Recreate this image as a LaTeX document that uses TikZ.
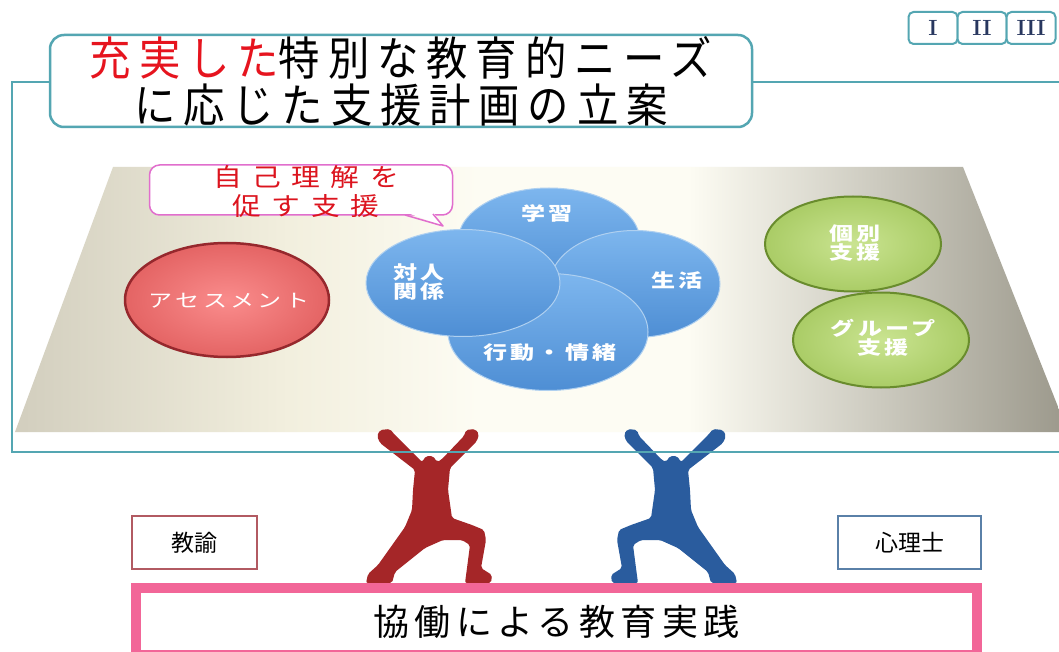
\documentclass[tikz,border=0pt]{standalone}
\usepackage{fontspec}
\usetikzlibrary{shapes.geometric}

\newfontfamily\jp{Noto Sans CJK JP}
\newfontfamily\jptitle[FakeStretch=0.9,LetterSpace=17]{Noto Sans CJK JP}
\newfontfamily\jpbubble[FakeStretch=1.15,LetterSpace=42]{Noto Sans CJK JP}
\newfontfamily\jporb[FakeStretch=1.3,LetterSpace=18]{Noto Sans CJK JP}
\newfontfamily\jpwide[LetterSpace=15]{Noto Sans CJK JP}

\definecolor{frameteal}{RGB}{84,166,178}
\definecolor{titlered}{RGB}{230,20,30}
\definecolor{numnavy}{RGB}{40,55,95}
\definecolor{bubblepink}{RGB}{225,110,205}
\definecolor{bubblered}{RGB}{220,20,30}
\definecolor{assessin}{RGB}{250,140,140}
\definecolor{assessout}{RGB}{228,100,100}
\definecolor{assessedge}{RGB}{150,40,45}
\definecolor{orbtop}{RGB}{125,182,238}
\definecolor{orbbot}{RGB}{78,142,212}
\definecolor{orbrim}{RGB}{175,208,240}
\definecolor{leafin}{RGB}{202,228,145}
\definecolor{leafout}{RGB}{170,204,102}
\definecolor{leafedge}{RGB}{105,140,45}
\definecolor{jumpred}{RGB}{165,38,40}
\definecolor{jumpblue}{RGB}{42,92,158}
\definecolor{teacheredge}{RGB}{178,90,98}
\definecolor{psychedge}{RGB}{90,128,168}
\definecolor{practicepink}{RGB}{242,102,152}
\definecolor{pfL}{RGB}{210,206,190}
\definecolor{pfM}{RGB}{242,239,222}
\definecolor{pfW}{RGB}{253,252,243}
\definecolor{pfR}{RGB}{155,152,139}

% floor shading, mapped onto 25bp..75bp of the path
\pgfdeclarehorizontalshading{floor}{100bp}{color(0bp)=(pfL); color(25bp)=(pfL);
  color(38bp)=(pfM); color(47bp)=(pfW); color(57bp)=(pfW); color(75bp)=(pfR); color(100bp)=(pfR)}

\tikzset{
  pics/jumper/.style={code={
    \fill[rounded corners=2pt] (-51,436) -- (-48,430) -- (-38,429) -- (-34,434) -- (-9,459)
      -- (-6,462) -- (-2,456) -- (5,456) -- (9,462) -- (13,460) -- (36,436) -- (38,430)
      -- (47,429) -- (51,434) -- (49,441) -- (22,468) -- (20,490) -- (24,518) -- (44,525)
      -- (56,530) -- (58,540) -- (53,568) -- (64,575) -- (63,583) -- (37,583) -- (39,568)
      -- (42,545) -- (34,540) -- (15,540) -- (-3,548) -- (-33,572) -- (-36,583) -- (-62,583)
      -- (-60,574) -- (-50,565) -- (-23,527) -- (-16,510) -- (-15,490) -- (-13,470)
      -- (-48,443) -- cycle;
  }}
}

\begin{document}
\begin{tikzpicture}[x=1pt,y=-1pt,
  frameline/.style={draw=frameteal, line width=2.5pt},
  titlebox/.style={draw=frameteal, line width=2.5pt, fill=white, rounded corners=14pt,
    minimum width=702pt, minimum height=92pt, inner sep=0pt, align=center,
    font=\jptitle\fontsize{46}{47}\selectfont},
  numbox/.style={draw=frameteal, line width=2pt, fill=white, rounded corners=5pt,
    minimum width=49pt, minimum height=32pt, inner sep=0pt, text=numnavy,
    font=\bfseries\fontsize{22}{24}\selectfont},
  bubble/.style={draw=bubblepink, line width=1.5pt, fill=white, rounded corners=10pt,
    minimum width=303pt, minimum height=50pt, inner sep=0pt},
  bubbletext/.style={text=bubblered, align=center, inner sep=0pt,
    font=\jpbubble\fontsize{25}{29}\selectfont},
  orb/.style={ellipse, inner sep=0pt},
  focusorb/.style={orb, top color=orbtop, bottom color=orbbot, draw=orbrim, line width=1pt},
  assessorb/.style={orb, inner color=assessin, outer color=assessout, draw=assessedge, line width=2.5pt},
  leaforb/.style={orb, inner color=leafin, outer color=leafout, draw=leafedge, line width=2pt},
  orbtext/.style={text=white, align=center, inner sep=0pt,
    font=\jporb\bfseries\fontsize{18.5}{19}\selectfont},
  rolebox/.style={line width=2.5pt, fill=white, inner sep=0pt, minimum height=53pt,
    font=\jp\fontsize{23}{24}\selectfont},
  practicebox/.style={draw=practicepink, line width=10pt, fill=white, inner sep=0pt,
    minimum width=841pt, minimum height=67pt, font=\jpwide\fontsize{36}{38}\selectfont}]

\useasboundingbox (0,0) rectangle (1059,652);
\clip (0,0) rectangle (1059,652);
\fill[white] (0,0) rectangle (1059,652);

% the floor
\shade[shading=floor] (113,167) -- (963,167) -- (1068,432) -- (15,432) -- cycle;

% speech bubble
\node[bubble] (bubble) at (301,190) {};
\coordinate (tailtip) at (443,226);
\fill[white] (405,212) -- (tailtip) -- (433,212) -- cycle;
\draw[bubblepink, line width=1.5pt, line join=round] (405,215) -- (tailtip) -- (433,214);
\node[bubbletext] (bubbletxt) at (306,192) {自己理解を\\促す支援};

% assessment
\node[assessorb, minimum width=204pt, minimum height=114pt] (assess) at (227,300) {};
\node[orbtext, font=\jporb\fontsize{18.5}{19}\selectfont] (assesstxt) at (229,301) {アセスメント};

% the four areas
\node[focusorb, minimum width=182pt, minimum height=106pt] (study) at (549,241) {};
\node[focusorb, minimum width=170pt, minimum height=107pt] (life) at (635,284) {};
\node[focusorb, minimum width=200pt, minimum height=117pt] (behave) at (548,332) {};
\node[focusorb, minimum width=194pt, minimum height=107pt] (social) at (463,283) {};
\node[orbtext] (studytxt) at (547,213) {学習};
\node[orbtext] (lifetxt) at (677,280) {生活};
\node[orbtext] (behavetxt) at (550,353) {行動・情緒};
\node[orbtext] (socialtxt) at (419,282) {対人\\関係};

% individual and group support
\node[leaforb, minimum width=176pt, minimum height=95pt] (single) at (853,244) {};
\node[leaforb, minimum width=176pt, minimum height=95pt] (group) at (881,340) {};
\node[orbtext] (singletxt) at (855,243) {個別\\支援};
\node[orbtext] (grouptxt) at (883,338) {グループ\\支援};

% the two jumpers
\pic[fill=jumpred] at (428,0) {jumper};
\pic[fill=jumpblue, xscale=-1] at (675,0) {jumper};

% outer frame and heading
\draw[frameline] (12,82) rectangle (1075,452);
\node[titlebox] (title) at (401,81) {{\color{titlered}充実した}特別な教育的ニーズ\\に応じた支援計画の立案};

% section tabs
\node[numbox] (tabA) at (933,28) {I};
\node[numbox] (tabB) at (982,28) {II};
\node[numbox] (tabC) at (1031,28) {III};

% roles and joint practice
\node[rolebox, draw=teacheredge, minimum width=125pt] (teacher) at (194.5,542.5) {教諭};
\node[rolebox, draw=psychedge, minimum width=143pt] (psych) at (909.5,542.5) {心理士};
\node[practicebox] (practice) at (556.5,621.5) {協働による教育実践};
\end{tikzpicture}
\end{document}
